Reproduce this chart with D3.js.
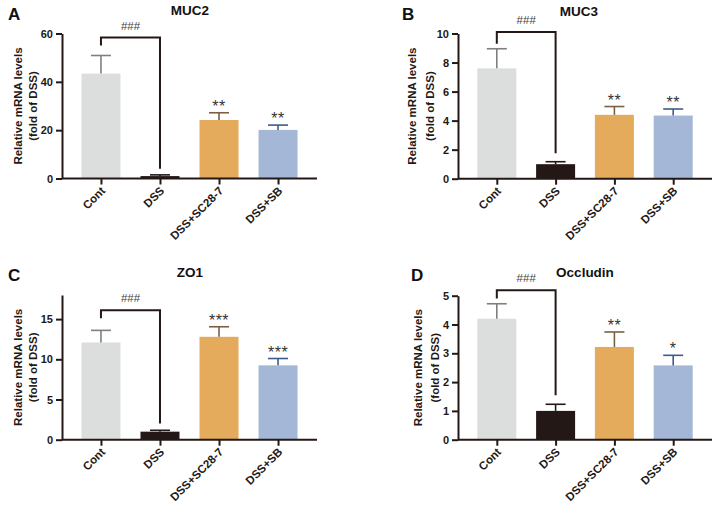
<!DOCTYPE html>
<html><head><meta charset="utf-8">
<script src="https://cdn.jsdelivr.net/npm/d3@7"></script>
<style>body{margin:0;background:#fff}svg{display:block}text{font-family:"Liberation Sans",Arial,sans-serif}</style>
</head><body>
<svg id="c" width="724" height="514"></svg>
<script>
const categories = ["Cont","DSS","DSS+SC28-7","DSS+SB"];
const panelLetters = ["A","B","C","D"];
const panelTitles = ["MUC2","MUC3","ZO1","Occludin"];
const yMax = [60,10,18,5];
const yTicks = [[0,20,40,60],[0,2,4,6,8,10],[0,5,10,15],[0,1,2,3,4,5]];
const meanA = [43.4,1.0,24.2,20.1];
const errA  = [50.9,1.5,27.2,22.1];
const meanB = [7.6,1.0,4.4,4.35];
const errB  = [8.95,1.17,4.97,4.8];
const meanC = [12.1,1.0,12.8,9.25];
const errC  = [13.6,1.17,14.05,10.1];
const meanD = [4.2,1.0,3.22,2.58];
const errD  = [4.72,1.23,3.74,2.93];
const starsA = ["","","**","**"];
const starsB = ["","","**","**"];
const starsC = ["","","***","***"];
const starsD = ["","","**","*"];
const hashLabel = "###";
// bracket: [horizontal level, left leg end, right leg end]
const bracketA = [58.3,55.0,4.0];
const bracketB = [10.1,9.3,1.75];
const bracketC = [16.1,15.1,2.0];
const bracketD = [5.19,4.9,1.54];

const means=[meanA,meanB,meanC,meanD], errs=[errA,errB,errC,errD];
const stars=[starsA,starsB,starsC,starsD], brackets=[bracketA,bracketB,bracketC,bracketD];

const fillColors = ["#dcdedd","#231815","#e3ab5b","#a5b7d7"];
const errColors = ["#7f7f7f","#231815","#7b6142","#3e5b8d"];
const dark = "#231815";

const layout = [
  {x0:62,x1:317,yTop:33.5,yZero:178.5,lx:8,ly:20,tx:190,ty:15,yl1:17,yl2:32},
  {x0:458,x1:712,yTop:33.5,yZero:178.7,lx:402,ly:20,tx:579,ty:16,yl1:411,yl2:429},
  {x0:62,x1:317,yTop:295,yZero:439.7,lx:8,ly:281,tx:190,ty:277,yl1:17,yl2:32},
  {x0:458,x1:712,yTop:295.7,yZero:439.7,lx:411,ly:281,tx:585,ty:277,yl1:417,yl2:434}
];

const svg = d3.select("#c");
const FONT = "'Liberation Sans',Arial,sans-serif";

layout.forEach((L,p)=>{
  const g = svg.append("g");
  const x = d3.scalePoint().domain(categories).range([L.x0,L.x1]).padding(0.66);
  const y = d3.scaleLinear().domain([0,yMax[p]]).range([L.yZero,L.yTop]);
  const bw = 39;

  g.selectAll(".bar").data(categories).join("rect")
    .attr("x",d=>x(d)-bw/2).attr("width",bw)
    .attr("y",(d,i)=>y(means[p][i])).attr("height",(d,i)=>y(0)-y(means[p][i]))
    .attr("fill",(d,i)=>fillColors[i]);

  categories.forEach((c,i)=>{
    const cx=x(c);
    g.append("line").attr("x1",cx).attr("x2",cx).attr("y1",y(means[p][i])).attr("y2",y(errs[p][i]))
      .attr("stroke",errColors[i]).attr("stroke-width",1.6);
    g.append("line").attr("x1",cx-10).attr("x2",cx+10).attr("y1",y(errs[p][i])).attr("y2",y(errs[p][i]))
      .attr("stroke",errColors[i]).attr("stroke-width",1.6);
    if(stars[p][i]) g.append("text").attr("x",cx).attr("y",y(errs[p][i])-1)
      .attr("text-anchor","middle").attr("font-size",16).attr("letter-spacing",0.5).attr("fill","#333").text(stars[p][i]);
  });

  const ya = g.append("g").attr("transform",`translate(${L.x0},0)`)
    .call(d3.axisLeft(y).tickValues(yTicks[p]).tickFormat(d3.format("d")).tickSize(6).tickPadding(3).tickSizeOuter(0));
  ya.select(".domain").attr("stroke",dark).attr("stroke-width",2);
  ya.selectAll(".tick line").attr("stroke",dark).attr("stroke-width",2);
  ya.selectAll(".tick text").attr("font-size",11).attr("font-weight","bold").attr("fill","#231815")
    .style("font-family",FONT);

  const xa = g.append("g").attr("transform",`translate(0,${L.yZero})`)
    .call(d3.axisBottom(x).tickSize(6).tickSizeOuter(0).tickFormat(""));
  xa.select(".domain").attr("stroke",dark).attr("stroke-width",2).attr("d",`M${L.x0},0H${L.x1}`);
  xa.selectAll(".tick line").attr("stroke",dark).attr("stroke-width",2);
  categories.forEach(c=>{
    g.append("text").attr("transform",`translate(${x(c)+5},${L.yZero+13}) rotate(-45)`)
      .attr("text-anchor","end").attr("font-size",11.5).attr("font-weight","bold").attr("fill","#231815").text(c);
  });

  const b = brackets[p];
  const xl=x(categories[0]), xr=x(categories[1]);
  g.append("path").attr("d",`M${xl},${y(b[1])}V${y(b[0])}H${xr}V${y(b[2])}`)
    .attr("fill","none").attr("stroke",dark).attr("stroke-width",2);
  g.append("text").attr("x",(xl+xr)/2).attr("y",y(b[0])-8).attr("text-anchor","middle")
    .attr("font-size",11.5).attr("fill","#444").text(hashLabel);

  g.append("text").attr("x",L.lx).attr("y",L.ly).attr("font-size",17).attr("font-weight","bold").attr("fill","#111").text(panelLetters[p]);
  g.append("text").attr("x",L.tx).attr("y",L.ty).attr("text-anchor","middle").attr("font-size",13.5).attr("font-weight","bold").attr("fill","#111").text(panelTitles[p]);

  const cy=(L.yTop+L.yZero)/2;
  g.append("text").attr("transform",`translate(${L.yl1+4.5},${cy}) rotate(-90)`).attr("text-anchor","middle")
    .attr("font-size",11.5).attr("font-weight","bold").attr("fill","#231815").text("Relative mRNA levels");
  g.append("text").attr("transform",`translate(${L.yl2+4.5},${cy}) rotate(-90)`).attr("text-anchor","middle")
    .attr("font-size",11.5).attr("font-weight","bold").attr("fill","#231815").text("(fold of DSS)");
});
</script>
</body></html>
